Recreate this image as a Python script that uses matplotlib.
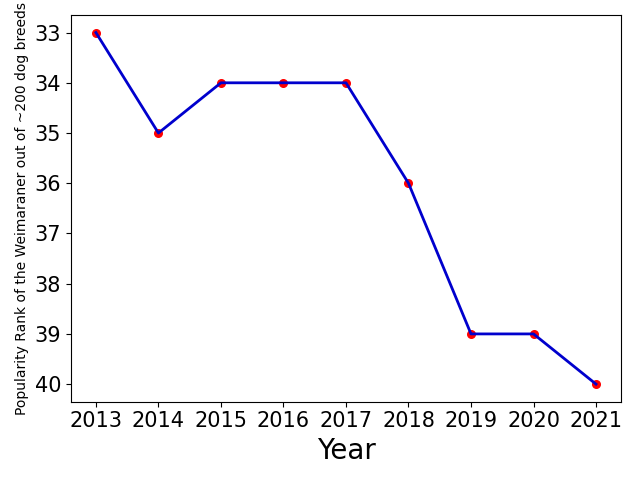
import matplotlib.pyplot as plt

years = [2013, 2014, 2015, 2016, 2017, 2018, 2019, 2020, 2021]
ranks = [33, 35, 34, 34, 34, 36, 39, 39, 40]

fig, ax = plt.subplots(figsize=(6.4, 4.8), dpi=100)
ax.scatter(years, ranks, color='red', s=30, zorder=2)
ax.plot(years, ranks, color='mediumblue', linewidth=2, zorder=3)
ax.invert_yaxis()

ax.set_xticks(years)
ax.tick_params(axis='both', labelsize=15)
ax.set_xlabel('Year', fontsize=20)
ax.set_ylabel('Popularity Rank of the Weimaraner out of ~200 dog breeds', fontsize=10)

plt.tight_layout()
plt.savefig('out.png')
